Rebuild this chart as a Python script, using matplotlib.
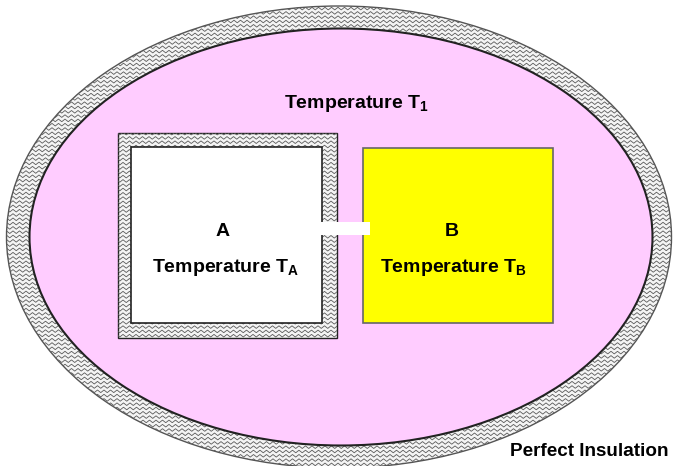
import numpy as np
import matplotlib
matplotlib.use('Agg')
import matplotlib.pyplot as plt
from matplotlib.patches import Ellipse, Rectangle

plt.rcParams['font.family'] = ['Liberation Sans', 'DejaVu Sans']
plt.rcParams['mathtext.fontset'] = 'custom'
plt.rcParams['mathtext.rm'] = 'Liberation Sans:bold'
plt.rcParams['mathtext.it'] = 'Liberation Sans:bold'
plt.rcParams['mathtext.bf'] = 'Liberation Sans:bold'
plt.rcParams['mathtext.default'] = 'rm'

# labels of the diagram
outer_label = "Temperature T$_1$"
box_names = ["A", "B"]
box_labels = ["Temperature T$_A$", "Temperature T$_B$"]
insulation_label = "Perfect Insulation"

PINK = '#FFCCFF'
YELLOW = '#FFFF00'

W, H = 673, 466
fig = plt.figure(figsize=(W / 100, H / 100), dpi=100)
ax = fig.add_axes([0, 0, 1, 1])
ax.set_xlim(0, W)
ax.set_ylim(H, 0)
ax.axis('off')


def zigzag_fill(ax, clip_patch, x0, x1, y0, y1, step=4.3, period=6.5, amp=1.3, z=1):
    # grey wavy "insulation" hatching clipped to a patch
    xs = np.arange(x0, x1 + period, period / 2)
    offs = np.where(np.arange(len(xs)) % 2 == 0, -amp, amp)
    for y in np.arange(y0, y1 + step, step):
        ln, = ax.plot(xs, y + offs, color='#5a5a5a', lw=0.6, zorder=z)
        ln.set_clip_path(clip_patch)


# outer insulation ring
outer = Ellipse((339, 237), 665, 462, facecolor='#f4f4f4', edgecolor='#555555', lw=1.0, zorder=0)
ax.add_patch(outer)
zigzag_fill(ax, outer, 0, W, 0, H, z=1)
inner = Ellipse((341, 237), 623, 417, facecolor=PINK, edgecolor='#222222', lw=1.5, zorder=2)
ax.add_patch(inner)

# box A with insulated walls
a_out = Rectangle((118, 133), 219, 205, facecolor='#f4f4f4', edgecolor='#222222', lw=1.0, zorder=3)
ax.add_patch(a_out)
zigzag_fill(ax, a_out, 110, 345, 125, 345, z=4)
ax.add_patch(Rectangle((131, 147), 191, 176, facecolor='white', edgecolor='#222222', lw=1.2, zorder=5))

# box B
ax.add_patch(Rectangle((363, 148), 190, 175, facecolor=YELLOW, edgecolor='#666666', lw=1.2, zorder=5))

# connecting rod
ax.add_patch(Rectangle((321, 222), 49, 13, facecolor='white', edgecolor='none', zorder=6))

fs = 14
ax.text(356, 103, outer_label, ha='center', va='center', fontsize=fs, fontweight='bold', zorder=8)
ax.text(223, 232, box_names[0], ha='center', va='center', fontsize=fs, fontweight='bold', zorder=8)
ax.text(226, 268, box_labels[0], ha='center', va='center', fontsize=fs, fontweight='bold', zorder=8)
ax.text(452, 232, box_names[1], ha='center', va='center', fontsize=fs, fontweight='bold', zorder=8)
ax.text(453, 268, box_labels[1], ha='center', va='center', fontsize=fs, fontweight='bold', zorder=8)
ax.text(668, 452, insulation_label, ha='right', va='center', fontsize=13.6, fontweight='bold', zorder=8)

fig.savefig('out.png', dpi=100)
